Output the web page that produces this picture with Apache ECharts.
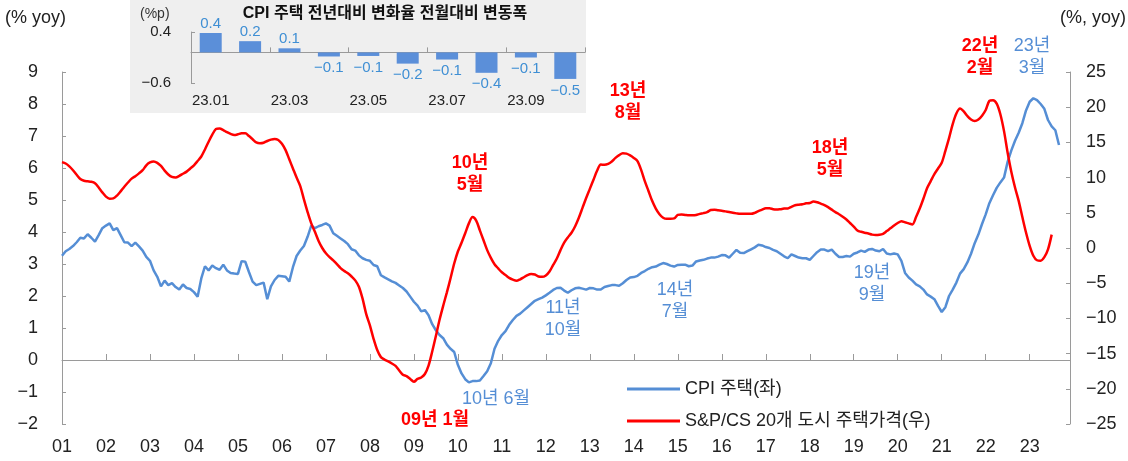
<!DOCTYPE html>
<html><head><meta charset="utf-8">
<script src="https://cdn.jsdelivr.net/npm/echarts@6/dist/echarts.min.js"></script>
<style>html,body{margin:0;padding:0;background:#fff}#c{width:1128px;height:461px}</style>
</head><body><div id="c"></div>
<script>
// ---- data ----
const startYear = 2001, endYear = 2023;
const cpiShelter = [
 3.26,3.4,3.47,3.56,3.68,3.82,3.8,3.93,3.82,3.7,3.9,4.12,
 4.2,4.27,4.06,4.12,3.9,3.68,3.67,3.56,3.67,3.55,3.42,3.22,
 3.1,2.8,2.6,2.3,2.48,2.34,2.4,2.28,2.2,2.36,2.25,2.22,
 2.12,1.98,2.55,2.93,2.8,2.95,2.87,2.82,2.98,2.8,2.72,2.7,
 2.69,3.09,3.07,2.75,2.45,2.34,2.38,2.42,1.9,2.3,2.5,2.63,
 2.62,2.6,2.45,2.9,3.25,3.42,3.56,3.85,4.2,4.12,4.18,4.22,
 4.27,4.2,3.96,3.88,3.8,3.72,3.62,3.46,3.42,3.27,3.18,3.13,
 3.1,2.97,2.93,2.65,2.58,2.52,2.46,2.41,2.33,2.25,2.14,1.98,
 1.82,1.7,1.52,1.56,1.4,1.12,0.93,0.78,0.68,0.48,0.35,0.25,
 -0.15,-0.42,-0.6,-0.7,-0.66,-0.66,-0.64,-0.5,-0.35,-0.1,0.35,0.6,
 0.78,0.9,1.1,1.25,1.38,1.45,1.55,1.65,1.75,1.85,1.9,1.95,
 2.02,2.1,2.19,2.25,2.26,2.17,2.1,2.18,2.24,2.26,2.23,2.2,
 2.25,2.24,2.2,2.2,2.28,2.31,2.34,2.34,2.32,2.4,2.5,2.58,
 2.59,2.63,2.72,2.78,2.85,2.9,2.92,2.98,3.03,3.0,2.95,2.92,
 2.97,2.98,2.98,2.93,2.95,3.08,3.11,3.13,3.17,3.2,3.2,3.23,
 3.28,3.27,3.2,3.32,3.44,3.35,3.34,3.4,3.46,3.52,3.6,3.58,
 3.53,3.5,3.44,3.4,3.32,3.24,3.18,3.3,3.25,3.2,3.18,3.18,
 3.13,3.25,3.37,3.45,3.45,3.4,3.45,3.32,3.22,3.22,3.25,3.23,
 3.32,3.36,3.42,3.38,3.45,3.47,3.42,3.4,3.47,3.33,3.3,3.33,
 3.3,3.1,2.72,2.58,2.48,2.36,2.3,2.2,2.05,1.98,1.9,1.69,
 1.5,1.65,2.0,2.2,2.42,2.7,2.84,3.05,3.32,3.65,3.92,4.25,
 4.55,4.9,5.15,5.38,5.55,5.7,6.2,6.55,6.85,7.1,7.4,7.8,
 8.07,8.18,8.12,8.0,7.85,7.5,7.3,7.18,6.72
];
const csIndex = [
 12.2,12.0,11.6,11.05,10.4,9.8,9.55,9.47,9.4,9.2,8.6,7.9,
 7.3,7.0,7.05,7.45,8.05,8.7,9.3,9.85,10.2,10.6,11.05,11.75,
 12.15,12.3,12.1,11.65,11.0,10.45,10.1,10.03,10.25,10.55,10.85,11.3,
 11.75,12.35,13.0,14.0,15.1,16.1,16.9,16.98,16.75,16.45,16.2,16.05,
 16.15,16.3,16.3,15.9,15.45,15.0,14.88,14.95,15.2,15.4,15.5,15.35,
 14.8,13.9,12.6,11.3,10.0,8.8,6.9,5.1,3.5,2.3,1.0,0.0,
 -0.75,-1.3,-1.75,-2.3,-2.85,-3.25,-3.6,-4.05,-4.6,-5.5,-7.2,-9.4,
 -11.0,-12.9,-14.5,-15.5,-15.85,-16.1,-16.4,-16.75,-17.4,-18.0,-18.2,-18.6,
 -19.0,-18.6,-18.4,-17.9,-16.7,-14.7,-12.5,-10.2,-8.2,-6.3,-4.3,-2.2,
 -0.5,0.75,2.1,3.5,4.4,3.9,2.5,1.1,-0.3,-1.4,-2.3,-2.9,
 -3.45,-3.85,-4.25,-4.5,-4.66,-4.45,-4.15,-3.85,-3.7,-3.77,-4.05,-4.1,
 -3.9,-3.35,-2.4,-1.5,-0.3,0.75,1.5,2.17,3.1,4.3,5.7,7.1,
 8.4,9.7,11.0,11.85,11.82,11.95,12.3,12.8,13.2,13.45,13.4,13.15,
 12.8,12.35,11.1,9.5,8.1,6.7,5.6,4.8,4.3,4.15,4.15,4.2,
 4.7,4.75,4.7,4.66,4.66,4.7,4.85,4.95,5.1,5.4,5.45,5.35,
 5.3,5.2,5.1,5.0,4.92,4.85,4.85,4.85,4.85,5.0,5.25,5.45,
 5.65,5.65,5.5,5.46,5.52,5.6,5.62,5.85,6.07,6.15,6.2,6.35,
 6.4,6.6,6.5,6.3,6.1,5.8,5.45,5.1,4.8,4.45,4.05,3.55,
 3.05,2.5,2.3,2.17,2.05,1.9,1.84,1.88,2.02,2.4,2.8,3.2,
 3.55,3.81,3.65,3.5,3.35,4.4,5.6,7.0,8.5,9.5,10.5,11.3,
 12.1,13.8,15.6,17.6,19.1,19.8,19.4,18.75,18.25,18.05,18.25,18.8,
 19.6,20.9,21.0,20.5,19.0,16.6,13.5,10.8,8.6,6.7,4.4,2.2,
 0.3,-1.1,-1.74,-1.8,-1.3,-0.2,1.9
];
const insetMonths = ['23.01','23.02','23.03','23.04','23.05','23.06','23.07','23.08','23.09','23.10'];
const insetValues = [0.38,0.22,0.08,-0.08,-0.07,-0.22,-0.14,-0.40,-0.10,-0.52];
const seriesNames = ['CPI 주택(좌)', 'S&P/CS 20개 도시 주택가격(우)'];
const insetTitle = 'CPI 주택 전년대비 변화율 전월대비 변동폭';
const annotations = [
  {text:'13년\n8월', color:'red', x:628, y:102},
  {text:'10년\n5월', color:'red', x:470, y:174},
  {text:'09년 1월', color:'red', x:435, y:420},
  {text:'18년\n5월', color:'red', x:830, y:159},
  {text:'22년\n2월', color:'red', x:980, y:57},
  {text:'23년\n3월', color:'blue', x:1032, y:57},
  {text:'19년\n9월', color:'blue', x:872, y:284},
  {text:'11년\n10월', color:'blue', x:563, y:319},
  {text:'14년\n7월', color:'blue', x:675, y:301},
  {text:'10년 6월', color:'blue', x:496, y:399}
];

// ---- build ----
const months = [];
for (let y = startYear; y <= endYear; y++) for (let m = 1; m <= 12; m++) months.push(y + '-' + String(m).padStart(2,'0'));
const BLUE = '#558ED5', RED = '#FF0000', AXIS = '#9a9a9a', TXT = '#222';
const FONT = '"Liberation Sans", "Noto Sans CJK KR", sans-serif';
const minus = v => String(v).replace('-', '\u2212');
const janOnly = (i) => i % 12 === 0;

const chart = echarts.init(document.getElementById('c'), null, {renderer:'canvas'});
const graphics = [
  {type:'rect', z:-10, shape:{x:130, y:0, width:456, height:113}, style:{fill:'#efefef'}},
  {type:'text', style:{text:'(% yoy)', x:5, y:18, fill:TXT, font:'18px ' + FONT, verticalAlign:'middle'}},
  {type:'text', style:{text:'(%, yoy)', x:1126, y:18, fill:TXT, font:'18px ' + FONT, align:'right', verticalAlign:'middle'}},
  {type:'text', style:{text:'(%p)', x:140, y:14, fill:'#333', font:'14px ' + FONT, verticalAlign:'middle'}},
  {type:'text', style:{text:insetTitle, x:385, y:14, fill:'#111', font:'bold 16px ' + FONT, align:'center', verticalAlign:'middle'}}
];
annotations.forEach(a => graphics.push({type:'text', z:50, style:{
  text:a.text, x:a.x, y:a.y, fill: a.color === 'red' ? RED : BLUE,
  font: (a.color === 'red' ? 'bold ' : '') + '18px ' + FONT,
  align:'center', verticalAlign:'middle', lineHeight:22}}));

chart.setOption({
  animation:false,
  textStyle:{fontFamily:FONT},
  graphic:graphics,
  legend:{orient:'vertical', left:622, top:375, icon:'rect', itemWidth:53, itemHeight:3, itemGap:14,
    textStyle:{fontSize:18, color:TXT, lineHeight:18}, data:seriesNames},
  grid:[
    {left:62, right:58, top:72, bottom:37, outerBoundsMode:'none', containLabel:false},
    {left:191, top:32, width:394, height:51, outerBoundsMode:'none', containLabel:false}
  ],
  xAxis:[
    {type:'category', gridIndex:0, data:months, boundaryGap:false,
     axisLine:{show:true, onZero:true, onZeroAxisIndex:0, lineStyle:{color:AXIS, width:1}},
     axisTick:{show:true, inside:true, length:6, interval:janOnly, lineStyle:{color:AXIS}},
     axisLabel:{interval:janOnly, formatter:v => v.slice(2,4), margin:14, fontSize:18, color:TXT},
     splitLine:{show:false}},
    {type:'category', gridIndex:1, data:insetMonths, boundaryGap:true,
     axisLine:{show:true, onZero:true, lineStyle:{color:AXIS}},
     axisTick:{show:true, inside:true, length:5, interval:1, lineStyle:{color:AXIS}},
     axisLabel:{interval:1, margin:10, fontSize:15, color:TXT}}
  ],
  yAxis:[
    {type:'value', gridIndex:0, position:'left', min:-2, max:9, interval:1,
     axisLine:{show:true, lineStyle:{color:AXIS}},
     axisTick:{show:true, inside:true, length:4, lineStyle:{color:AXIS}},
     axisLabel:{formatter:minus, fontSize:18, color:TXT, margin:24},
     splitLine:{show:false}},
    {type:'value', gridIndex:0, position:'right', min:-25, max:25, interval:5,
     axisLine:{show:true, lineStyle:{color:AXIS}},
     axisTick:{show:true, inside:true, length:4, lineStyle:{color:AXIS}},
     axisLabel:{formatter:minus, fontSize:18, color:TXT, margin:16},
     splitLine:{show:false}},
    {type:'value', gridIndex:1, min:-0.6, max:0.4, interval:1,
     axisLine:{show:true, lineStyle:{color:AXIS}},
     axisTick:{show:true, inside:true, length:4, lineStyle:{color:AXIS}},
     axisLabel:{formatter:v => minus(Number(v).toFixed(1)), fontSize:15, color:TXT, margin:20},
     splitLine:{show:false}}
  ],
  series:[
    {name:seriesNames[0], type:'line', xAxisIndex:0, yAxisIndex:0, data:cpiShelter,
     symbol:'none', lineStyle:{color:BLUE, width:2.5}, itemStyle:{color:BLUE}, z:3},
    {name:seriesNames[1], type:'line', xAxisIndex:0, yAxisIndex:1, data:csIndex,
     symbol:'none', smooth:0.3, lineStyle:{color:RED, width:2.5}, itemStyle:{color:RED}, z:4},
    {type:'bar', xAxisIndex:1, yAxisIndex:2, barWidth:22,
     itemStyle:{color:'#5b8fd9'},
     label:{show:true, color:'#3f8fd4', fontSize:15, distance:3,
       formatter:p => minus(p.value.toFixed(1))},
     data:insetValues.map(v => ({value:v, label:{position: v >= 0 ? 'top' : 'bottom', distance: v >= 0 ? 2 : 4}}))}
  ]
});
</script></body></html>
